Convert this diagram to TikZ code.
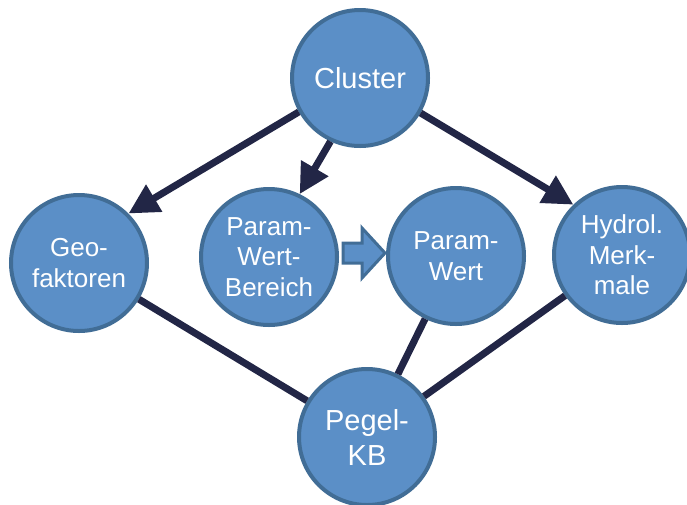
\documentclass[tikz,border=0pt]{standalone}
\usepackage{fontspec}
\setmainfont{Liberation Sans}
\usetikzlibrary{arrows.meta}
\definecolor{cfill}{RGB}{91,143,199}
\definecolor{cborder}{RGB}{65,109,150}
\definecolor{cline}{RGB}{34,38,70}
\tikzset{
  bubble/.style={circle, draw=cborder, fill=cfill, line width=4pt, minimum size=136pt, inner sep=0pt,
    align=center, text=white, font=\fontsize{26}{30.5}\selectfont},
  bigbubble/.style={bubble, font=\fontsize{29}{35}\selectfont},
  conn/.style={draw=cline, line width=7pt},
  arr/.style={conn, -{Triangle[length=30pt,width=30pt]}},
  blockarr/.style={draw=cborder, fill=cfill, line width=3pt, line join=miter}
}
\begin{document}
\begin{tikzpicture}[x=1pt,y=-1pt]
\useasboundingbox (0,0) rectangle (687,504);
\node[bigbubble] (cluster) at (360,78) {Cluster};
\node[bubble] (geo) at (79,263) {Geo-\\faktoren};
\node[bubble] (pwb) at (269,257) {Param-\\Wert-\\Bereich};
\node[bubble] (pw) at (456,256) {Param-\\Wert};
\node[bubble] (hyd) at (622,255) {Hydrol.\\Merk-\\male};
\node[bigbubble] (pegel) at (367,437) {Pegel-\\KB};
\draw[arr] (cluster.209) -- (geo.45);
\draw[arr] (cluster.245) -- (pwb.64);
\draw[arr] (cluster.330) -- (hyd.134);
\draw[conn] (geo) -- (pegel);
\draw[conn] (pw) -- (pegel);
\draw[conn] (hyd) -- (pegel);
\draw[blockarr] (343,243) -- (362,243) -- (362,228) -- (385,253) -- (362,278) -- (362,263) -- (343,263) -- cycle;
\end{tikzpicture}
\end{document}
